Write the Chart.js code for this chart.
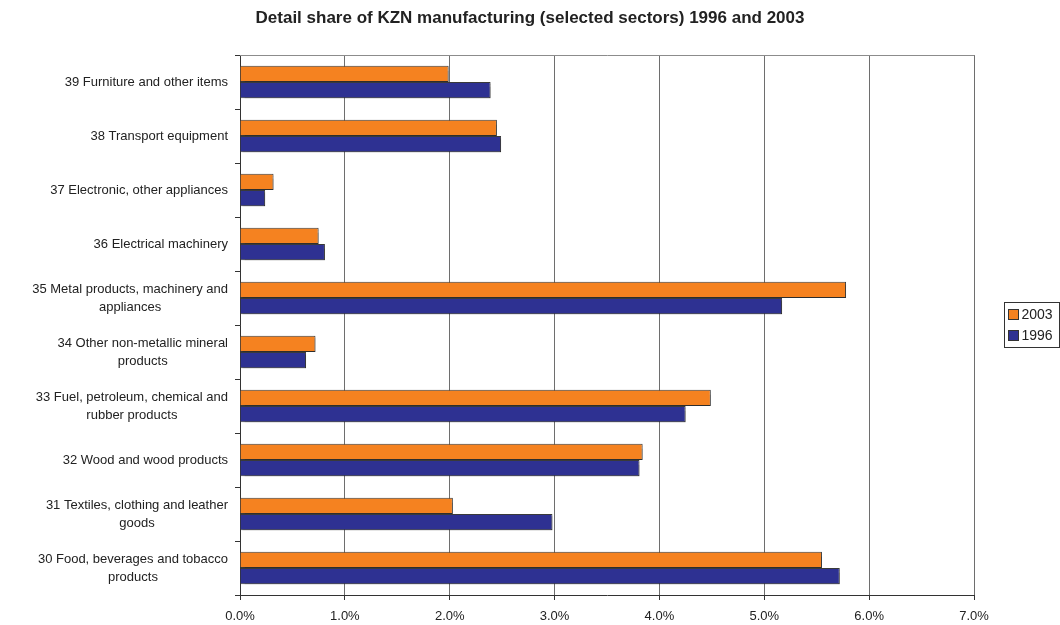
<!DOCTYPE html>
<html>
<head>
<meta charset="utf-8">
<script src="https://cdn.jsdelivr.net/npm/chart.js@4.4.1/dist/chart.umd.min.js"></script>
<style>
  html, body { margin: 0; padding: 0; background: #fff; }
  #wrap { width: 1060px; height: 625px; }
</style>
</head>
<body>
<div id="wrap"><canvas id="chart" width="1060" height="625"></canvas></div>
<script>
const sectors = [
    ['39 Furniture and other items'],
    ['38 Transport equipment'],
    ['37 Electronic, other appliances'],
    ['36 Electrical machinery'],
    ['35 Metal products, machinery and', 'appliances'],
    ['34 Other non-metallic mineral', 'products'],
    ['33 Fuel, petroleum, chemical and', 'rubber products'],
    ['32 Wood and wood products'],
    ['31 Textiles, clothing and leather', 'goods'],
    ['30 Food, beverages and tobacco', 'products']
];
const share2003 = [1.99, 2.45, 0.32, 0.75, 5.78, 0.72, 4.49, 3.84, 2.03, 5.55];
const share1996 = [2.39, 2.49, 0.24, 0.81, 5.17, 0.63, 4.25, 3.81, 2.98, 5.72];
const xTicks = ['0.0%', '1.0%', '2.0%', '3.0%', '4.0%', '5.0%', '6.0%', '7.0%'];
const chartTitle = 'Detail share of KZN manufacturing (selected sectors) 1996 and 2003';

const FONT = 'Liberation Sans, Arial, Helvetica, sans-serif';

// category labels: right-aligned block, lines centred within the block
const sectorLabels = {
    id: 'sectorLabels',
    afterDraw(chart) {
        const ctx = chart.ctx;
        const y = chart.scales.y;
        ctx.save();
        ctx.font = '13px ' + FONT;
        ctx.fillStyle = '#222';
        ctx.textAlign = 'center';
        ctx.textBaseline = 'middle';
        const right = y.right - 12;
        chart.data.labels.forEach((lines, i) => {
            const w = Math.max(...lines.map(l => ctx.measureText(l).width));
            const cx = right - w / 2;
            const cy = y.getPixelForTick(i);
            const lh = 18;
            lines.forEach((l, k) => {
                ctx.fillText(l, cx, cy + (k - (lines.length - 1) / 2) * lh);
            });
        });
        ctx.restore();
    }
};

// title, top border of the plot area, bar shadows and boxed legend
const frameAndLegend = {
    id: 'frameAndLegend',
    beforeDatasetsDraw(chart) {
        const ctx = chart.ctx;
        ctx.save();
        ctx.shadowColor = 'rgba(0,0,0,0.22)';
        ctx.shadowOffsetX = 2;
        ctx.shadowOffsetY = 2;
        ctx.shadowBlur = 1;
    },
    afterDatasetsDraw(chart) {
        chart.ctx.restore();
    },
    afterDraw(chart) {
        const ctx = chart.ctx;
        const a = chart.chartArea;
        ctx.save();
        ctx.font = 'bold 17px ' + FONT;
        ctx.fillStyle = '#222';
        ctx.textAlign = 'center';
        ctx.textBaseline = 'middle';
        ctx.fillText(chartTitle, chart.width / 2, 18);

        ctx.strokeStyle = '#8c8c8c';
        ctx.lineWidth = 1;
        ctx.beginPath();
        ctx.moveTo(a.left, a.top + 0.5);
        ctx.lineTo(a.right + 0.5, a.top + 0.5);
        ctx.stroke();

        const bx = a.right + 30.5, by = Math.round((a.top + a.bottom) / 2) - 22.5;
        const bw = 55, bh = 45;
        ctx.strokeStyle = '#333';
        ctx.strokeRect(bx, by, bw, bh);
        ctx.font = '14px ' + FONT;
        ctx.textBaseline = 'middle';
        ctx.textAlign = 'left';
        chart.data.datasets.forEach((ds, i) => {
            const ry = by + 12 + i * 21;
            ctx.fillStyle = ds.backgroundColor;
            ctx.fillRect(bx + 4, ry - 5, 10, 10);
            ctx.strokeStyle = '#333';
            ctx.strokeRect(bx + 4, ry - 5, 10, 10);
            ctx.fillStyle = '#222';
            ctx.fillText(ds.label, bx + 17, ry + 1);
        });
        ctx.restore();
    }
};

new Chart(document.getElementById('chart'), {
    type: 'bar',
    data: {
        labels: sectors,
        datasets: [
            { label: '2003', data: share2003, backgroundColor: '#F58220', borderColor: '#3a3a3a', borderWidth: 1 },
            { label: '1996', data: share1996, backgroundColor: '#2E3192', borderColor: '#3a3a3a', borderWidth: 1 }
        ]
    },
    options: {
        indexAxis: 'y',
        responsive: false,
        animation: false,
        layout: { padding: { left: 0, right: 86, top: 55, bottom: 0 } },
        datasets: { bar: { categoryPercentage: 0.6, barPercentage: 1.0 } },
        plugins: {
            legend: { display: false },
            tooltip: { enabled: false },
            title: { display: false }
        },
        scales: {
            x: {
                min: 0, max: 7,
                ticks: {
                    stepSize: 1,
                    color: '#222',
                    font: { family: FONT, size: 13 },
                    padding: 9,
                    callback: (v, i) => xTicks[i]
                },
                grid: { color: '#6e6e6e', tickLength: 5, tickColor: '#333' },
                border: { color: '#333' },
                afterFit: s => { s.height = 30; }
            },
            y: {
                ticks: { display: false },
                grid: { drawOnChartArea: false, offset: true, tickLength: 5, color: '#333' },
                border: { color: '#333' },
                afterFit: s => { s.width = 240; }
            }
        }
    },
    plugins: [sectorLabels, frameAndLegend]
});
</script>
</body>
</html>
